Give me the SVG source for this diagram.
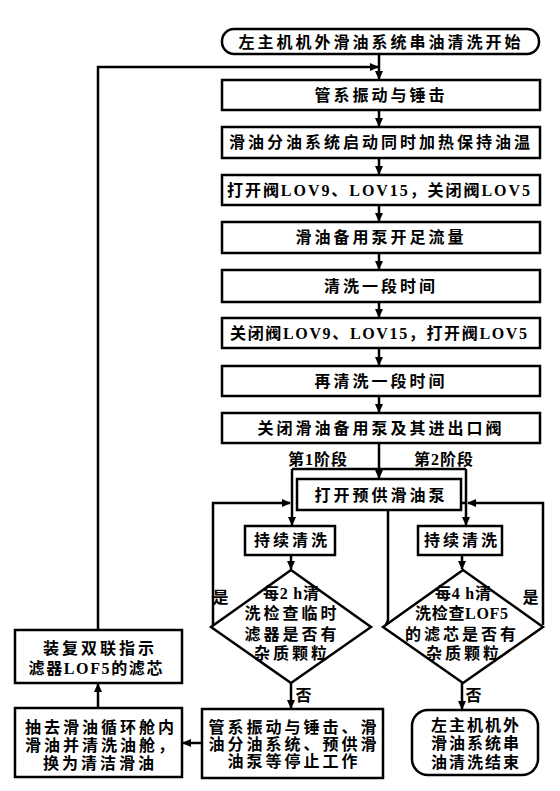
<svg xmlns="http://www.w3.org/2000/svg" width="560" height="791" viewBox="0 0 560 791">
<style>
.b{fill:#fff;stroke:#000;stroke-width:2.5}
.t{font-family:"Liberation Serif","Noto Sans CJK SC",serif;font-weight:bold;font-size:16px;letter-spacing:3px;text-anchor:middle;fill:#000}
.l{font-family:"Liberation Serif","Noto Sans CJK SC",serif;font-weight:bold;font-size:16px;letter-spacing:1px;text-anchor:middle;fill:#000}
.c{fill:none;stroke:#000;stroke-width:2.5}
</style>
<defs>
<marker id="a" markerUnits="userSpaceOnUse" markerWidth="9" markerHeight="8" refX="8" refY="4" orient="auto">
<path d="M0,0 L9,4 L0,8 Z" fill="#000"/>
</marker>
</defs>
<rect width="560" height="791" fill="#fff"/>
<g id="connectors">
<path class="c" d="M379,54 V79" marker-end="url(#a)"/>
<path class="c" d="M98,630 V67 H378" marker-end="url(#a)"/>
<path class="c" d="M379,110 V126" marker-end="url(#a)"/>
<path class="c" d="M379,158 V174" marker-end="url(#a)"/>
<path class="c" d="M379,205 V221" marker-end="url(#a)"/>
<path class="c" d="M379,253 V269" marker-end="url(#a)"/>
<path class="c" d="M379,302 V317" marker-end="url(#a)"/>
<path class="c" d="M379,348 V365" marker-end="url(#a)"/>
<path class="c" d="M379,396 V412" marker-end="url(#a)"/>
<path class="c" d="M379,443 V478" marker-end="url(#a)"/>
<path class="c" d="M292,469 H466"/>
<path class="c" d="M292,469 V525" marker-end="url(#a)"/>
<path class="c" d="M466,469 V525" marker-end="url(#a)"/>
<path class="c" d="M291,555 V569" marker-end="url(#a)"/>
<path class="c" d="M462,555 V569" marker-end="url(#a)"/>
<path class="c" d="M213,625 V503 H290" marker-end="url(#a)"/>
<path class="c" d="M543,625 V503 H468" marker-end="url(#a)"/>
<path class="c" d="M386,625 L388,620 V503 H466"/>
<path class="c" d="M291,683 V708" marker-end="url(#a)"/>
<path class="c" d="M462,683 V709" marker-end="url(#a)"/>
<path class="c" d="M202,743 H183" marker-end="url(#a)"/>
<path class="c" d="M98,708 V684" marker-end="url(#a)"/>
</g>
<g id="start"><rect class="b" x="222" y="29" width="317" height="25" rx="12" ry="12"/><text class="t" x="381" y="48">左主机机外滑油系统串油清洗开始</text></g>
<g id="n1"><rect class="b" x="222" y="80" width="318" height="30"/><text class="t" x="381" y="101">管系振动与锤击</text></g>
<g id="n2"><rect class="b" x="222" y="127" width="318" height="31"/><text class="t" x="381" y="148">滑油分油系统启动同时加热保持油温</text></g>
<g id="n3"><rect class="b" x="222" y="175" width="318" height="30"/><text class="t" x="380" y="196" textLength="306" lengthAdjust="spacing">打开阀LOV9、LOV15，关闭阀LOV5</text></g>
<g id="n4"><rect class="b" x="222" y="222" width="318" height="31"/><text class="t" x="381" y="243">滑油备用泵开足流量</text></g>
<g id="n5"><rect class="b" x="222" y="270" width="318" height="32"/><text class="t" x="381" y="292">清洗一段时间</text></g>
<g id="n6"><rect class="b" x="222" y="318" width="318" height="30"/><text class="t" x="380" y="339" textLength="300" lengthAdjust="spacing">关闭阀LOV9、LOV15，打开阀LOV5</text></g>
<g id="n7"><rect class="b" x="222" y="366" width="318" height="30"/><text class="t" x="381" y="387">再清洗一段时间</text></g>
<g id="n8"><rect class="b" x="222" y="413" width="318" height="30"/><text class="t" x="381" y="434">关闭滑油备用泵及其进出口阀</text></g>
<g id="stage1"><text class="l" x="318" y="465">第1阶段</text></g>
<g id="stage2"><text class="l" x="444" y="465">第2阶段</text></g>
<g id="n9"><rect class="b" x="297" y="479" width="164" height="31"/><text class="t" x="381" y="501">打开预供滑油泵</text></g>
<g id="n10"><rect class="b" x="245" y="526" width="90" height="29"/><text class="t" x="292" y="546">持续清洗</text></g>
<g id="n11"><rect class="b" x="418" y="526" width="84" height="29"/><text class="t" x="462" y="546">持续清洗</text></g>
<g id="d1"><path class="b" d="M291,570 L371,627 L291,683 L211,627 Z"/>
<text class="t" x="291" y="599" textLength="56" lengthAdjust="spacing" style="letter-spacing:0">每2 h清</text><text class="t" x="292" y="619">洗检查临时</text><text class="t" x="292" y="640">滤器是否有</text><text class="t" x="292" y="659">杂质颗粒</text></g>
<g id="d2"><path class="b" d="M463,570 L543,627 L463,683 L383,627 Z"/>
<text class="t" x="463" y="599" textLength="56" lengthAdjust="spacing" style="letter-spacing:0">每4 h清</text><text class="t" x="463" y="619" textLength="96" lengthAdjust="spacing">洗检查LOF5</text><text class="t" x="462" y="640">的滤芯是否有</text><text class="t" x="464" y="659">杂质颗粒</text></g>
<g id="lbl-yes1"><text class="l" x="221" y="603">是</text></g>
<g id="lbl-yes2"><text class="l" x="531" y="603">是</text></g>
<g id="lbl-no1"><text class="l" x="304" y="701">否</text></g>
<g id="lbl-no2"><text class="l" x="474" y="701">否</text></g>
<g id="n12"><rect class="b" x="15" y="630" width="167" height="53"/><text class="t" x="100" y="654">装复双联指示</text><text class="t" x="97" y="674" textLength="137" lengthAdjust="spacing">滤器LOF5的滤芯</text></g>
<g id="n13"><rect class="b" x="15" y="708" width="167" height="69"/><text class="t" x="101" y="733">抽去滑油循环舱内</text><text class="t" x="101" y="751">滑油并清洗油舱，</text><text class="t" x="100" y="769">换为清洁滑油</text></g>
<g id="n14"><rect class="b" x="202" y="709" width="181" height="69"/><text class="t" x="294" y="733">管系振动与锤击、滑</text><text class="t" x="294" y="750">油分油系统、预供滑</text><text class="t" x="294" y="767">油泵等停止工作</text></g>
<g id="end"><rect class="b" x="412" y="710" width="126" height="65" rx="16" ry="16"/><text class="t" x="476" y="731" style="letter-spacing:2px">左主机机外</text><text class="t" x="476" y="749" style="letter-spacing:2px">滑油系统串</text><text class="t" x="476" y="768" style="letter-spacing:2px">油清洗结束</text></g>
</svg>
